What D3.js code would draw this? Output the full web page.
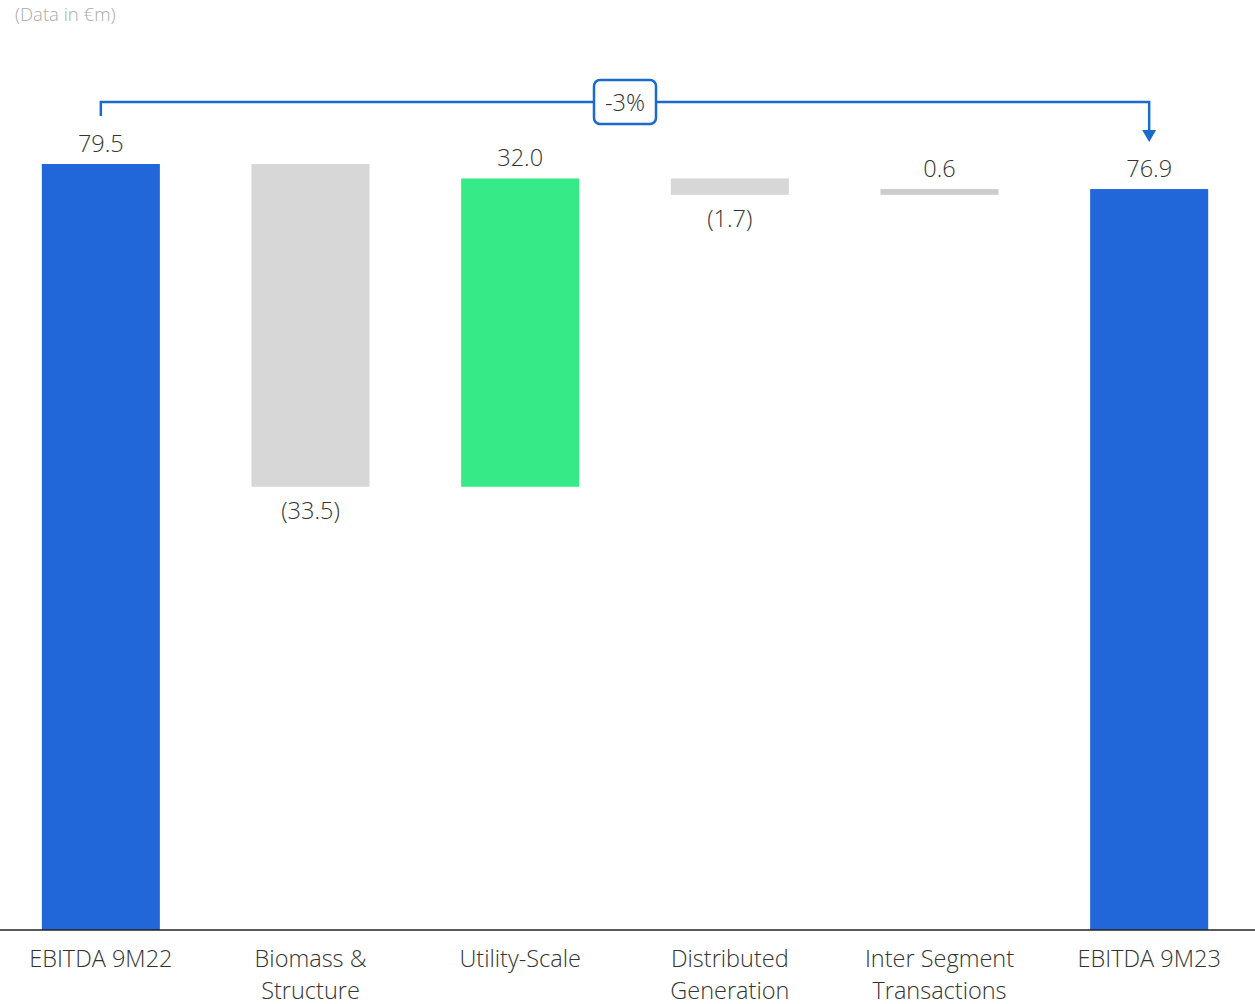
<!DOCTYPE html>
<html><head><meta charset="utf-8">
<script src="https://cdn.jsdelivr.net/npm/d3@7"></script>
<style>
html,body{margin:0;padding:0;background:#fff;}
svg{display:block;font-family:"Open Sans",sans-serif;font-weight:300;}
</style></head>
<body>
<svg id="chart" width="1255" height="1004"></svg>
<script>
const categories = [["EBITDA 9M22"],["Biomass &","Structure"],["Utility-Scale"],["Distributed","Generation"],["Inter Segment","Transactions"],["EBITDA 9M23"]];
const values = [79.5, -33.5, 32.0, -1.7, 0.6, 76.9];
const kinds = ["total","delta","delta","delta","delta","total"];
const valueLabels = ["79.5","(33.5)","32.0","(1.7)","0.6","76.9"];
const changeLabel = "-3%";
const colors = {total:"#2167D9", up:"#36EB87", down:"#D7D7D7", upSmall:"#CCCCCC"};

const svg = d3.select("#chart");
const W = 1255, baseY = 930;

let run = 0;
const bars = values.map((v,i)=>{
  let y0, y1;
  if (kinds[i]==="total"){ y0=0; y1=v; run=v; }
  else { y0=run; y1=run+v; run=y1; }
  return {i, v, y0, y1, kind:kinds[i], label:valueLabels[i], cat:categories[i]};
});

const x = d3.scaleBand().domain(d3.range(values.length)).range([-4, 1254]).paddingInner(0.437).paddingOuter(0.2185);
const y = d3.scaleLinear().domain([0, 79.5]).range([baseY, 164]);

function fill(d){
  if (d.kind==="total") return colors.total;
  if (d.i===2) return colors.up;
  if (d.i===4) return colors.upSmall;
  return colors.down;
}

svg.selectAll("rect.bar").data(bars).join("rect")
  .attr("class","bar")
  .attr("x", d=>x(d.i))
  .attr("width", x.bandwidth())
  .attr("y", d=>y(Math.max(d.y0,d.y1)))
  .attr("height", d=>Math.abs(y(d.y0)-y(d.y1)))
  .attr("fill", fill);

svg.selectAll("text.val").data(bars).join("text")
  .attr("class","val")
  .attr("x", d=>x(d.i)+x.bandwidth()/2)
  .attr("y", d=> d.v>=0 ? y(Math.max(d.y0,d.y1))-12.5 : y(Math.min(d.y0,d.y1))+32)
  .attr("text-anchor","middle")
  .attr("font-size",23.5)
  .attr("fill","#333")
  .text(d=>d.label);

svg.append("line").attr("x1",0).attr("x2",W).attr("y1",baseY).attr("y2",baseY)
  .attr("stroke","#222").attr("stroke-width",1.5);

const cl = svg.selectAll("text.cat").data(bars).join("text")
  .attr("class","cat")
  .attr("x", d=>x(d.i)+x.bandwidth()/2)
  .attr("y", 966.5)
  .attr("text-anchor","middle")
  .attr("font-size",23.5)
  .attr("fill","#333");
cl.selectAll("tspan").data(d=>d.cat.map(t=>({t,x:x(d.i)+x.bandwidth()/2}))).join("tspan")
  .attr("x", d=>d.x)
  .attr("dy",(d,i)=>i===0?0:32)
  .text(d=>d.t);

svg.append("text").attr("x",15).attr("y",20.5).attr("font-size",18.5).attr("fill","#aaa").text("(Data in €m)");

const blue = "#1A6ACF";
const xa = x(0)+x.bandwidth()/2, xb = x(5)+x.bandwidth()/2, ty = 102;
svg.append("path")
  .attr("d",`M${xa},${116}V${ty}H${xb}V${132}`)
  .attr("fill","none").attr("stroke",blue).attr("stroke-width",2.5);
svg.append("path")
  .attr("d",`M${xb-7},${130}L${xb+7},${130}L${xb},${142}Z`)
  .attr("fill",blue);
const bx = 625;
svg.append("rect").attr("x",bx-31).attr("y",80).attr("width",62).attr("height",44).attr("rx",6)
  .attr("fill","#fff").attr("stroke",blue).attr("stroke-width",2.5);
svg.append("text").attr("x",bx).attr("y",111).attr("text-anchor","middle").attr("font-size",23.5).attr("fill","#333").text(changeLabel);
</script>
</body></html>
